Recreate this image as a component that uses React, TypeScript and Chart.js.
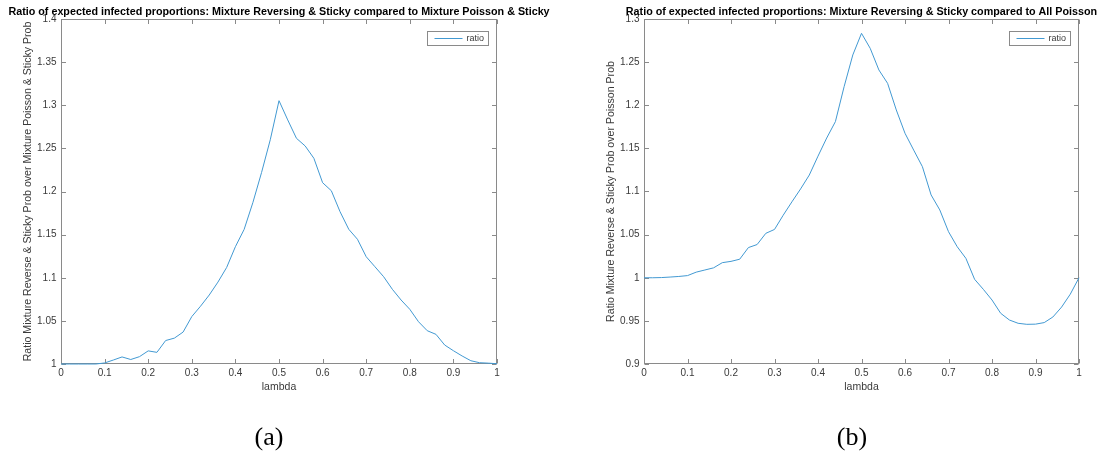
import React, { useEffect, useRef } from "react";
import { Chart, registerables } from "chart.js";

Chart.register(...registerables);

// ---------- data ----------
const lambda = [
  0, 0.02, 0.04, 0.06, 0.08, 0.1, 0.12, 0.14, 0.16, 0.18,
  0.2, 0.22, 0.24, 0.26, 0.28, 0.3, 0.32, 0.34, 0.36, 0.38,
  0.4, 0.42, 0.44, 0.46, 0.48, 0.5, 0.52, 0.54, 0.56, 0.58,
  0.6, 0.62, 0.64, 0.66, 0.68, 0.7, 0.72, 0.74, 0.76, 0.78,
  0.8, 0.82, 0.84, 0.86, 0.88, 0.9, 0.92, 0.94, 0.96, 0.98, 1,
];

const ratioA = [
  1.0, 1.0, 1.0, 1.0, 1.0, 1.0012, 1.0046, 1.0082, 1.0052, 1.0085,
  1.0152, 1.0135, 1.0272, 1.03, 1.037, 1.055, 1.067, 1.08, 1.095, 1.112,
  1.136, 1.156, 1.187, 1.222, 1.26, 1.3053, 1.283, 1.2617, 1.2528, 1.2385,
  1.2102, 1.2009, 1.1766, 1.1562, 1.1446, 1.1244, 1.1128, 1.1012, 1.0866, 1.0742,
  1.0634, 1.049, 1.0386, 1.0344, 1.022, 1.0154, 1.0093, 1.0038, 1.0015, 1.001, 1.0003,
];

const ratioB = [
  1.0, 1.0, 1.0002, 1.0008, 1.0015, 1.0025, 1.0065, 1.009, 1.0115, 1.0175,
  1.019, 1.0215, 1.035, 1.0385, 1.0515, 1.056, 1.0725, 1.088, 1.103, 1.1191,
  1.141, 1.162, 1.181, 1.2215, 1.2583, 1.2834, 1.266, 1.2409, 1.2254, 1.1945,
  1.1675, 1.148, 1.1288, 1.096, 1.0786, 1.0534, 1.036, 1.0225, 0.9982, 0.9866,
  0.9742, 0.9588, 0.951, 0.9472, 0.946, 0.9462, 0.948, 0.9545, 0.966, 0.981, 1.0,
];

const xTicks = [0, 0.1, 0.2, 0.3, 0.4, 0.5, 0.6, 0.7, 0.8, 0.9, 1];
const yTicksA = [1, 1.05, 1.1, 1.15, 1.2, 1.25, 1.3, 1.35, 1.4];
const yTicksB = [0.9, 0.95, 1, 1.05, 1.1, 1.15, 1.2, 1.25, 1.3];

const titleA =
  "Ratio of expected infected proportions: Mixture Reversing & Sticky compared to Mixture Poisson & Sticky";
const titleB =
  "Ratio of expected infected proportions: Mixture Reversing & Sticky compared to All Poisson";
const yLabelA = "Ratio Mixture Reverse & Sticky Prob over Mixture Poisson & Sticky Prob";
const yLabelB = "Ratio Mixture Reverse & Sticky Prob over Poisson Prob";
const xLabel = "lambda";
const seriesName = "ratio";

// ---------- styling ----------
const FONT = "'Liberation Sans', Arial, Helvetica, sans-serif";
const LINE_COLOR = "#4299d2";
const AXIS_COLOR = "#8a8a8a";
const TEXT_COLOR = "#3a3a3a";
const H = 453;

const fmt = (v: number) => String(parseFloat(Number(v).toFixed(4)));

const matlabBox = {
  id: "matlabBox",
  beforeDatasetsDraw(chart: any) {
    const { ctx, chartArea } = chart;
    const l = Math.round(chartArea.left) + 0.5;
    const r = Math.round(chartArea.right) - 0.5;
    const t = Math.round(chartArea.top) + 0.5;
    const b = Math.round(chartArea.bottom) - 0.5;
    ctx.save();
    ctx.strokeStyle = AXIS_COLOR;
    ctx.lineWidth = 1;
    ctx.strokeRect(l, t, r - l, b - t);
    const tl = 4.5;
    ctx.beginPath();
    const xs = chart.scales.x;
    xs.ticks.forEach((tk: any) => {
      const px = Math.round(xs.getPixelForValue(tk.value)) + 0.5;
      ctx.moveTo(px, b);
      ctx.lineTo(px, b - tl);
      ctx.moveTo(px, t);
      ctx.lineTo(px, t + tl);
    });
    const ys = chart.scales.y;
    ys.ticks.forEach((tk: any) => {
      const py = Math.round(ys.getPixelForValue(tk.value)) + 0.5;
      ctx.moveTo(l, py);
      ctx.lineTo(l + tl, py);
      ctx.moveTo(r, py);
      ctx.lineTo(r - tl, py);
    });
    ctx.stroke();

    // title, centred over the axes
    const title = chart.options.plugins.matlabBox.title;
    ctx.fillStyle = "#000";
    ctx.font = `bold 10.75px ${FONT}`;
    ctx.textAlign = "center";
    ctx.textBaseline = "middle";
    ctx.fillText(title, (chartArea.left + chartArea.right) / 2, 12.3);
    ctx.restore();
  },
  afterDraw(chart: any) {
    const { ctx, chartArea } = chart;
    ctx.save();
    // legend box (top-right, inside axes)
    const ds = chart.data.datasets[0];
    ctx.font = `9px ${FONT}`;
    const tw = ctx.measureText(ds.label).width;
    const bw = Math.round(7 + 28 + 4 + tw + 4);
    const bh = 14;
    const bx = Math.round(chartArea.right - 9 - bw) + 0.5;
    const by = Math.round(chartArea.top + 12) + 0.5;
    ctx.fillStyle = "#ffffff";
    ctx.fillRect(bx, by, bw, bh);
    ctx.strokeStyle = AXIS_COLOR;
    ctx.lineWidth = 1;
    ctx.strokeRect(bx, by, bw, bh);
    ctx.strokeStyle = ds.borderColor;
    ctx.beginPath();
    ctx.moveTo(bx + 7, by + bh / 2);
    ctx.lineTo(bx + 35, by + bh / 2);
    ctx.stroke();
    ctx.fillStyle = TEXT_COLOR;
    ctx.textBaseline = "middle";
    ctx.textAlign = "left";
    ctx.fillText(ds.label, bx + 39, by + bh / 2 + 0.5);
    ctx.restore();
  },
};

type PanelProps = {
  width: number;
  areaLeft: number;
  areaRight: number;
  title: string;
  yLabel: string;
  values: number[];
  yTicks: number[];
};

function Panel({ width, areaLeft, areaRight, title, yLabel, values, yTicks }: PanelProps) {
  const ref = useRef<HTMLCanvasElement | null>(null);
  useEffect(() => {
    if (!ref.current) return;
    const chart = new Chart(ref.current, {
      type: "line",
      data: {
        labels: lambda,
        datasets: [
          {
            label: seriesName,
            data: lambda.map((x, i) => ({ x, y: values[i] })),
            borderColor: LINE_COLOR,
            borderWidth: 1,
            pointRadius: 0,
            tension: 0,
            fill: false,
            clip: 2,
          },
        ],
      },
      options: {
        animation: false,
        responsive: false,
        devicePixelRatio: 1,
        layout: { padding: { left: 0, right: width - areaRight, top: 19, bottom: H - 364 - 29 } },
        plugins: {
          legend: { display: false },
          tooltip: { enabled: false },
          title: { display: false },
          matlabBox: { title },
        },
        scales: {
          x: {
            type: "linear",
            min: 0,
            max: 1,
            afterBuildTicks: (s: any) => {
              s.ticks = xTicks.map((v) => ({ value: v }));
            },
            afterFit: (s: any) => {
              s.height = 29;
            },
            grid: { display: false, drawTicks: false, tickLength: 0 },
            border: { display: false },
            ticks: {
              color: TEXT_COLOR,
              font: { family: FONT, size: 10 },
              padding: 3.5,
              maxRotation: 0,
              autoSkip: false,
              callback: (v: any) => fmt(v),
            },
            title: {
              display: true,
              text: xLabel,
              color: TEXT_COLOR,
              font: { family: FONT, size: 10.5, lineHeight: 1.2 },
              padding: { top: 0, bottom: 0 },
            },
          },
          y: {
            type: "linear",
            min: yTicks[0],
            max: yTicks[yTicks.length - 1],
            afterBuildTicks: (s: any) => {
              s.ticks = yTicks.map((v) => ({ value: v }));
            },
            afterFit: (s: any) => {
              s.width = areaLeft;
            },
            grid: { display: false, drawTicks: false, tickLength: 0 },
            border: { display: false },
            ticks: {
              color: TEXT_COLOR,
              font: { family: FONT, size: 10 },
              padding: 4.5,
              autoSkip: false,
              callback: (v: any) => fmt(v),
            },
            title: {
              display: true,
              text: yLabel,
              color: TEXT_COLOR,
              font: { family: FONT, size: 10.6, lineHeight: 1.2 },
              padding: { top: areaLeft - 32.5 - 6.36, bottom: 0 },
            },
          },
        },
      },
      plugins: [matlabBox],
    } as any);
    return () => chart.destroy();
  }, []);
  return <canvas ref={ref} width={width} height={H} style={{ display: "block", width, height: H }} />;
}

const captionStyle = (cx: number): React.CSSProperties => ({
  position: "absolute",
  left: cx - 50,
  top: 424,
  width: 100,
  textAlign: "center",
  fontFamily: "'Liberation Serif', 'Times New Roman', serif",
  fontSize: 26,
  lineHeight: "26px",
  color: "#000",
});

export default function App() {
  return (
    <div
      style={{
        position: "absolute",
        left: 0,
        top: 0,
        width: 1103,
        height: H,
        background: "#fff",
        overflow: "hidden",
      }}
    >
      <div style={{ position: "absolute", left: 0, top: 0 }}>
        <Panel
          width={552}
          areaLeft={61}
          areaRight={497}
          title={titleA}
          yLabel={yLabelA}
          values={ratioA}
          yTicks={yTicksA}
        />
      </div>
      <div style={{ position: "absolute", left: 552, top: 0 }}>
        <Panel
          width={551}
          areaLeft={92}
          areaRight={527}
          title={titleB}
          yLabel={yLabelB}
          values={ratioB}
          yTicks={yTicksB}
        />
      </div>
      <div style={captionStyle(269)}>(a)</div>
      <div style={captionStyle(852)}>(b)</div>
    </div>
  );
}
